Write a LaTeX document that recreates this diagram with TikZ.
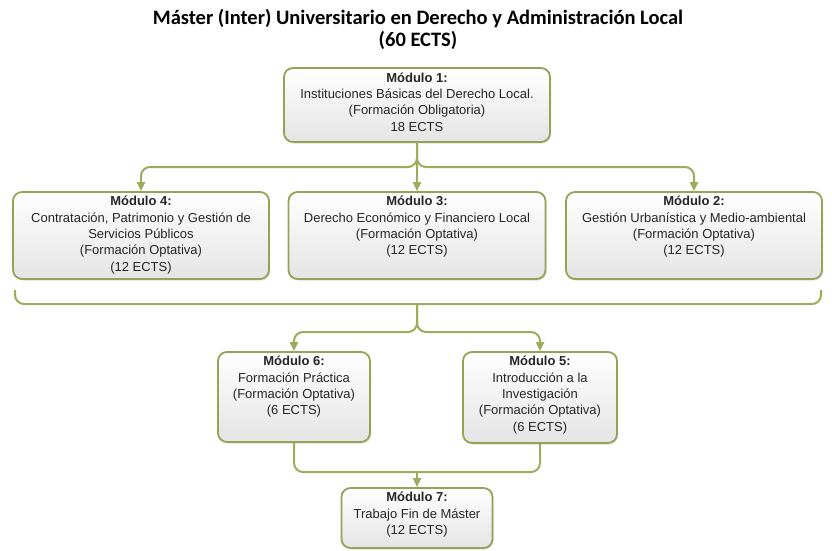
\documentclass[tikz,border=0pt]{standalone}
\usepackage{fontspec}
\setmainfont{Liberation Sans}
\newfontfamily\titlefont{Carlito}
\usetikzlibrary{arrows.meta,shadows}
\definecolor{olivebd}{RGB}{148,163,86}
\definecolor{olivecn}{RGB}{155,172,90}
\definecolor{boxbot}{RGB}{228,228,228}
\tikzset{
  modbox/.style={draw=olivebd, line width=1.8pt, rounded corners=9pt,
    top color=white, bottom color=boxbot, inner sep=0pt,
    drop shadow={shadow xshift=1pt, shadow yshift=-1.5pt, opacity=0.25}},
  modtext/.style={anchor=north, inner sep=0pt, align=center,
    font=\fontsize{13}{16.3}\selectfont, text=black!85},
  conn/.style={draw=olivecn, line width=2pt, rounded corners=9pt},
  arr/.style={conn, -{Triangle[length=9pt,width=8pt]}},
}
\begin{document}
\begin{tikzpicture}[x=1pt,y=-1pt]
\useasboundingbox (0,0) rectangle (832,550);
% title
\node[inner sep=0pt, align=center, font=\titlefont\bfseries\fontsize{20.5}{22}\selectfont] (title) at (418,29.5)
  {Máster (Inter) Universitario en Derecho y Administración Local\\(60 ECTS)};
% boxes
\node[modbox, minimum width=266pt, minimum height=74pt] (m1) at (417,105) {};
\node[modbox, minimum width=256pt, minimum height=87pt] (m4) at (141,235.5) {};
\node[modbox, minimum width=257pt, minimum height=87pt] (m3) at (417,235.5) {};
\node[modbox, minimum width=256pt, minimum height=87pt] (m2) at (694,235.5) {};
\node[modbox, minimum width=152pt, minimum height=90pt] (m6) at (294,397) {};
\node[modbox, minimum width=154pt, minimum height=91pt] (m5) at (540,397.5) {};
\node[modbox, minimum width=151pt, minimum height=60pt] (m7) at (417,518) {};
% texts
\node[modtext] (t1) at ([yshift=-5.5pt]m1.north) {\textbf{Módulo 1:}\\Instituciones Básicas del Derecho Local.\\(Formación Obligatoria)\\18 ECTS};
\node[modtext] (t4) at ([yshift=-5pt]m4.north) {\textbf{Módulo 4:}\\Contratación, Patrimonio y Gestión de\\Servicios Públicos\\(Formación Optativa)\\(12 ECTS)};
\node[modtext] (t3) at ([yshift=-5pt]m3.north) {\textbf{Módulo 3:}\\Derecho Económico y Financiero Local\\(Formación Optativa)\\(12 ECTS)};
\node[modtext] (t2) at ([yshift=-5pt]m2.north) {\textbf{Módulo 2:}\\Gestión Urbanística y Medio-ambiental\\(Formación Optativa)\\(12 ECTS)};
\node[modtext] (t6) at ([yshift=-5pt]m6.north) {\textbf{Módulo 6:}\\Formación Práctica\\(Formación Optativa)\\(6 ECTS)};
\node[modtext] (t5) at ([yshift=-5pt]m5.north) {\textbf{Módulo 5:}\\Introducción a la\\Investigación\\(Formación Optativa)\\(6 ECTS)};
\node[modtext] (t7) at ([yshift=-5pt]m7.north) {\textbf{Módulo 7:}\\Trabajo Fin de Máster\\(12 ECTS)};
% coordinates
\coordinate (j1) at (417,167);
\coordinate (bl) at (15,290);
\coordinate (br) at (821,290);
\coordinate (j2) at (417,304);
\coordinate (j3) at (417,332);
\coordinate (j4) at (417,472);
% connectors level 1
\draw[arr] (m1.south) -- (j1) -| (m4.north);
\draw[arr] (m1.south) -- (j1) -| (m2.north);
\draw[arr] (m1.south) -- (m3.north);
% bracket
\draw[conn] (bl) |- (j2) -| (br);
\draw[arr] (j2) -- (j3) -| (m6.north);
\draw[arr] (j2) -- (j3) -| (m5.north);
% bottom
\draw[conn] (m6.south) |- (j4) -| (m5.south);
\draw[arr] (j4) -- (m7.north);
\end{tikzpicture}
\end{document}
